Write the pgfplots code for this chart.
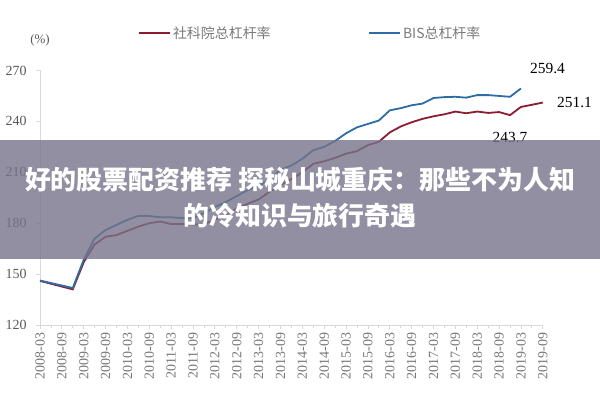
\documentclass[border=0pt]{standalone}
\usepackage{pgfplots}
\usepackage{pgfplotstable}
\pgfplotsset{compat=1.18}
\usepackage{fontspec}
\setmainfont{Liberation Serif}
\newfontfamily\cjk{Noto Sans CJK SC}
\definecolor{redline}{RGB}{140,28,48}
\definecolor{blueline}{RGB}{46,108,165}
\definecolor{axgray}{RGB}{217,217,217}
\definecolor{ylab}{RGB}{89,89,89}
\definecolor{xlab}{RGB}{120,120,120}
\definecolor{band}{RGB}{118,116,138}

\pgfplotstableread{
q v
0 146.0
3 141.0
4 157.0
5 167.5
6 172.0
7 173.0
8 175.5
9 178.0
10 180.0
11 181.0
12 179.5
13 179.5
14 179.2
15 179.5
16 182.0
17 185.0
18 188.5
19 191.5
20 194.0
21 198.5
22 202.6
23 206.0
24 210.0
25 215.0
26 216.5
27 218.5
28 221.0
29 222.5
30 226.0
31 228.0
32 233.5
33 237.0
34 239.5
35 241.5
36 243.0
37 244.2
38 245.8
39 244.8
40 245.8
41 245.0
42 245.5
43 243.7
44 248.5
45 249.8
46 251.1
}\redtab

\pgfplotstableread{
q v
0 146.2
3 141.8
4 158.5
5 171.0
6 176.0
7 179.0
8 182.0
9 184.3
10 184.2
11 183.5
12 183.5
13 183.0
14 183.0
15 186.0
16 189.5
17 192.5
18 196.0
19 199.5
20 202.0
21 205.5
22 211.5
23 214.0
24 218.0
25 223.0
26 225.0
27 228.5
28 233.0
29 236.5
30 238.5
31 240.5
32 246.5
33 247.8
34 249.5
35 250.5
36 253.8
37 254.3
38 254.5
39 254.0
40 255.5
41 255.5
42 255.0
43 254.5
44 259.4
}\bluetab

\begin{document}
\begin{tikzpicture}
\path[use as bounding box, fill=white] (0,0) rectangle (600bp,400bp);
\begin{axis}[
  at={(40bp,75bp)}, anchor=south west,
  scale only axis, width=502.8bp, height=254.5bp,
  xmin=0, xmax=46, ymin=120, ymax=270,
  axis x line*=bottom, axis y line*=left,
  axis line style={axgray, line width=0.8bp},
  tick style={axgray, line width=0.8bp},
  tick align=outside, major tick length=4bp, minor tick length=3bp,
  xtick={0,2,...,46},
  minor xtick={1,3,...,45},
  xticklabels={2008-03,2008-09,2009-03,2009-09,2010-03,2010-09,2011-03,2011-09,2012-03,2012-09,2013-03,2013-09,2014-03,2014-09,2015-03,2015-09,2016-03,2016-09,2017-03,2017-09,2018-03,2018-09,2019-03,2019-09},
  xticklabel style={rotate=90, anchor=east, font=\fontsize{14}{14}\selectfont, text=xlab},
  ytick={120,150,...,270},
  yticklabel style={font=\fontsize{14}{14}\selectfont, text=ylab, xshift=-6bp},
  /pgf/number format/assume math mode=true,
  legend columns=2,
  legend style={draw=none, fill=none, at={(0.537,1.147)}, anchor=center,
    font=\cjk\fontsize{14}{14}\selectfont, text=ylab!80,
    /tikz/every odd column/.append style={column sep=0bp},
    /tikz/every even column/.append style={column sep=95bp}},
  legend image code/.code={\draw[#1, line width=2.4bp] (0bp,0bp) -- (31bp,0bp);},
  clip=false,
]
\addplot[redline, line width=1.8bp] table[x=q, y=v] {\redtab};
\addlegendentry{社科院总杠杆率}
\addplot[blueline, line width=1.8bp] table[x=q, y=v] {\bluetab};
\addlegendentry{BIS总杠杆率}
\end{axis}
\node[font=\fontsize{13}{13}\selectfont, text=ylab] at (40bp,360bp) {(\%)};
\node[font=\fontsize{15.5}{15.5}\selectfont] at (547.5bp,331bp) {259.4};
\node[font=\fontsize{15.5}{15.5}\selectfont] at (574.5bp,297bp) {251.1};
\node[font=\fontsize{15.5}{15.5}\selectfont] at (510bp,263bp) {243.7};
\fill[band, opacity=0.8] (0bp,141bp) rectangle (600bp,260bp);
\node[text=white, align=center, font=\cjk\bfseries\fontsize{26}{36}\selectfont] at (300bp,202bp) {好的股票配资推荐 探秘山城重庆：那些不为人知\\的冷知识与旅行奇遇};
\end{tikzpicture}
\end{document}
